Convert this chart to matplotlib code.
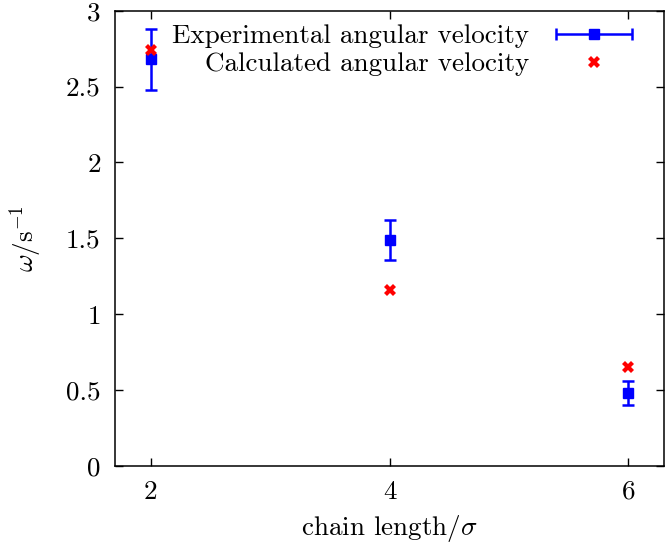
import numpy as np
import matplotlib
matplotlib.use('Agg')
from matplotlib import pyplot as plt
from matplotlib.legend_handler import HandlerErrorbar
from matplotlib.ticker import FuncFormatter

# chain length (in units of sigma) and angular velocities (1/s)
chain_length = [2, 4, 6]
omega_exp = [2.68, 1.49, 0.48]
omega_exp_err = [0.20, 0.13, 0.08]
omega_calc = [2.74, 1.16, 0.65]

x_ticks = [2, 4, 6]
y_ticks = [0, 0.5, 1, 1.5, 2, 2.5, 3]

plt.rcParams['font.family'] = 'serif'
plt.rcParams['font.serif'] = ['cmr10']
plt.rcParams['mathtext.fontset'] = 'cm'
plt.rcParams['axes.unicode_minus'] = False

fs = 19.5
blue = '#0000ff'
red = '#ff0000'

fig = plt.figure(figsize=(6.66, 5.51), dpi=100)
ax = fig.add_axes([0.1722, 0.1543, 0.8253, 0.8263])

ax.errorbar(chain_length, omega_exp, yerr=omega_exp_err, fmt='s', color=blue,
            markersize=6.5, elinewidth=1.8, capsize=4.2, capthick=1.8, zorder=3)
ax.plot(chain_length, omega_calc, 'X', color=red, markersize=8.5,
        markeredgewidth=0, zorder=4)

# legend proxies, gnuplot style (horizontal bar sample)
exp_proxy = ax.errorbar([np.nan], [np.nan], xerr=[1], fmt='s', color=blue,
                        markersize=6.5, elinewidth=1.8, capsize=4, capthick=1.8)
calc_proxy, = ax.plot([np.nan], [np.nan], 'X', color=red, markersize=8.5,
                      markeredgewidth=0)

leg = ax.legend([exp_proxy, calc_proxy],
                ['Experimental angular velocity', 'Calculated angular velocity'],
                handler_map={type(exp_proxy): HandlerErrorbar(xerr_size=1.4)},
                loc='upper right', bbox_to_anchor=(0.941, 0.970), frameon=False,
                markerfirst=False, fontsize=fs, handlelength=2.8, handletextpad=1.0,
                labelspacing=0.155, borderaxespad=0, borderpad=0, numpoints=1)

ax.set_xlim(1.7, 6.3)
ax.set_ylim(0, 3)
ax.set_xticks(x_ticks)
ax.set_yticks(y_ticks)
ax.yaxis.set_major_formatter(FuncFormatter(lambda v, p: '%g' % v))
ax.tick_params(direction='in', length=6, width=1, top=True, right=True,
               labelsize=fs, pad=10)
for s in ax.spines.values():
    s.set_linewidth(1.1)

ax.set_xlabel(r'chain length/$\sigma$', fontsize=fs, labelpad=7)
ax.set_ylabel(r'$\omega/\mathrm{s}^{-1}$', fontsize=fs, labelpad=16)

fig.savefig('out.png', dpi=100)
